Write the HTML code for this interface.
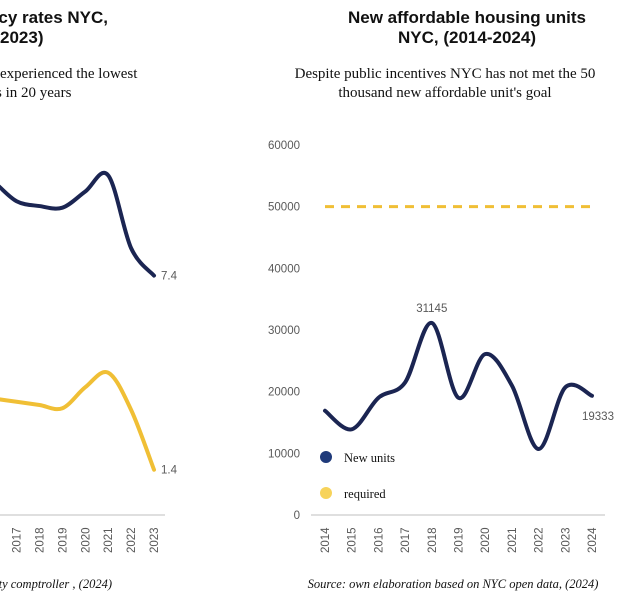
<!DOCTYPE html>
<html><head><meta charset="utf-8"><style>
body{margin:0;background:#fff;width:637px;height:609px;overflow:hidden}
svg{display:block}
.t{font-family:"Liberation Sans",sans-serif;font-weight:bold;font-size:17px;fill:#111}
.s{font-family:"Liberation Serif",serif;font-size:15px;fill:#111}
.k{font-family:"Liberation Sans",sans-serif;font-size:11.5px;fill:#595959}
.src{font-family:"Liberation Serif",serif;font-style:italic;font-size:12.5px;fill:#111}
</style></head><body>
<svg id="c" width="637" height="609">
<text class="t" x="108" y="23" text-anchor="end">ncy rates NYC,</text>
<text class="t" x="0" y="43">2023)</text>
<text class="s" x="0" y="78">experienced the lowest</text>
<text class="s" x="-4" y="97">s in 20 years</text>
<text class="src" x="112" y="588" text-anchor="end">ty comptroller , (2024)</text>
<text class="t" x="467" y="23" text-anchor="middle">New affordable housing units</text>
<text class="t" x="467" y="43" text-anchor="middle">NYC, (2014-2024)</text>
<text class="s" x="445" y="78" text-anchor="middle">Despite public incentives NYC has not met the 50</text>
<text class="s" x="445" y="97" text-anchor="middle">thousand  new affordable unit's goal</text>
<text class="src" x="453" y="588" text-anchor="middle">Source: own elaboration based on NYC open data, (2024)</text>
<circle cx="326" cy="457" r="6" fill="#1f3a7a"/>
<text class="s" x="344" y="462" style="font-size:12.5px">New units</text>
<circle cx="326" cy="493" r="6" fill="#f7d35a"/>
<text class="s" x="344" y="498" style="font-size:12.5px">required</text>
</svg>
<script>
const leftYears=[2015,2016,2017,2018,2019,2020,2021,2022,2023];
const leftNavy=[10.8,10.3,9.7,9.55,9.5,10.0,10.5,8.25,7.4];
const leftYellow=[3.7,3.6,3.5,3.4,3.3,3.95,4.4,3.25,1.4];
const rightYears=[2014,2015,2016,2017,2018,2019,2020,2021,2022,2023,2024];
const newUnits=[16900,13900,19000,21500,31145,19000,26100,21000,10700,20700,19333];
const required=[50000,50000,50000,50000,50000,50000,50000,50000,50000,50000,50000];
const rightTicks=[0,10000,20000,30000,40000,50000,60000];
const NS='http://www.w3.org/2000/svg';
const svg=document.getElementById('c');
const lx=y=>154+(y-2023)*22.9, ly=v=>515-v*32.35;
const rx=y=>325+(y-2014)*26.7, ry=v=>515-v*0.006167;
function mk(t,a){const e=document.createElementNS(NS,t);for(const k in a)e.setAttribute(k,a[k]);svg.appendChild(e);return e;}
function smooth(p){let d='M'+p[0][0]+','+p[0][1];for(let i=0;i<p.length-1;i++){const p0=p[i-1]||p[i],p1=p[i],p2=p[i+1],p3=p[i+2]||p2;
d+=' C'+(p1[0]+(p2[0]-p0[0])/6)+','+(p1[1]+(p2[1]-p0[1])/6)+' '+(p2[0]-(p3[0]-p1[0])/6)+','+(p2[1]-(p3[1]-p1[1])/6)+' '+p2[0]+','+p2[1];}return d;}
let e=mk('line',{x1:0,x2:165,y1:515,y2:515,stroke:'#bfbfbf','stroke-width':1});


leftYears.forEach(y=>{const t=mk('text',{class:'k',transform:'translate('+(lx(y)+4)+',553) rotate(-90)'});t.textContent=y;

});
e=mk('path',{d:smooth(leftYears.map((y,i)=>[lx(y),ly(leftNavy[i])])),fill:'none',stroke:'#1b2552','stroke-width':4,'stroke-linecap':'round'});


e=mk('path',{d:smooth(leftYears.map((y,i)=>[lx(y),ly(leftYellow[i])])),fill:'none',stroke:'#f0bf35','stroke-width':4,'stroke-linecap':'round'});


let n=leftYears.length-1;
e=mk('text',{class:'k',x:lx(leftYears[n])+7,y:ly(leftNavy[n])+4});e.textContent=leftNavy[n];


e=mk('text',{class:'k',x:lx(leftYears[n])+7,y:ly(leftYellow[n])+4});e.textContent=leftYellow[n];


e=mk('line',{x1:311,x2:605,y1:515,y2:515,stroke:'#bfbfbf','stroke-width':1});


rightTicks.forEach(v=>{const t=mk('text',{class:'k',x:300,y:ry(v)+4,'text-anchor':'end'});t.textContent=v;

});
rightYears.forEach(y=>{const t=mk('text',{class:'k',transform:'translate('+(rx(y)+4)+',553) rotate(-90)'});t.textContent=y;

});
e=mk('path',{d:'M'+rightYears.map((y,i)=>rx(y)+','+ry(required[i])).join(' L'),fill:'none',stroke:'#f0bf35','stroke-width':3,'stroke-dasharray':'9,7'});


e=mk('path',{d:smooth(rightYears.map((y,i)=>[rx(y),ry(newUnits[i])])),fill:'none',stroke:'#1b2552','stroke-width':4,'stroke-linecap':'round'});


let mi=newUnits.indexOf(Math.max(...newUnits));
e=mk('text',{class:'k',x:rx(rightYears[mi]),y:ry(newUnits[mi])-11,'text-anchor':'middle'});e.textContent=newUnits[mi];


n=rightYears.length-1;
e=mk('text',{class:'k',x:rx(rightYears[n])+6,y:ry(newUnits[n])+24,'text-anchor':'middle'});e.textContent=newUnits[n];


</script>
</body></html>
